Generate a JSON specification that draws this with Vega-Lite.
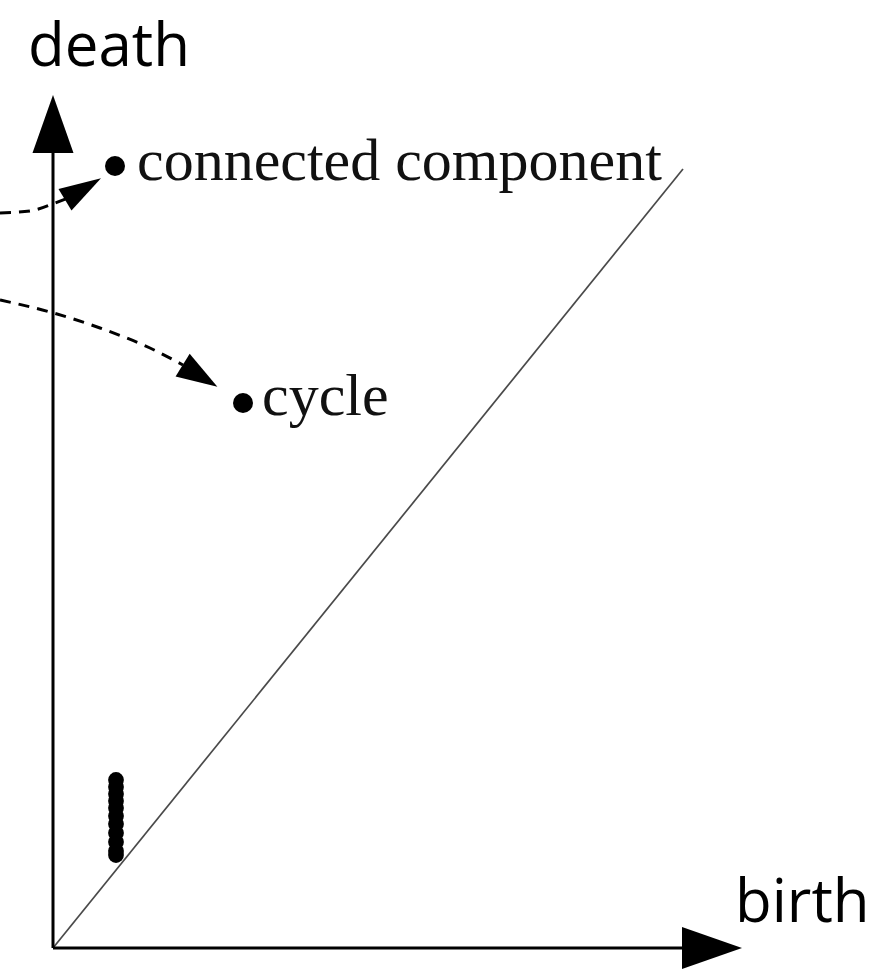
{
  "$schema": "https://vega.github.io/schema/vega-lite/v6.json",
  "width": 889,
  "height": 973,
  "padding": 0,
  "autosize": {"type": "none"},
  "background": "white",
  "config": {"view": {"stroke": null}},
  "datasets": {
    "axes": [
      {"x": 0, "y": 0, "x2": 0, "y2": 795},
      {"x": 0, "y": 0, "x2": 629, "y2": 0}
    ],
    "diag": [{"x": 0, "y": 0, "x2": 630, "y2": 779}],
    "curves": [
      {"c": "a", "i": 1, "x": -53, "y": 735},
      {"c": "a", "i": 2, "x": -23, "y": 737},
      {"c": "a", "i": 3, "x": 2, "y": 745},
      {"c": "a", "i": 4, "x": 15, "y": 750},
      {"c": "b", "i": 1, "x": -53, "y": 648},
      {"c": "b", "i": 2, "x": -3, "y": 636},
      {"c": "b", "i": 3, "x": 47, "y": 620},
      {"c": "b", "i": 4, "x": 97, "y": 600},
      {"c": "b", "i": 5, "x": 130, "y": 583}
    ],
    "dots": [
      {"x": 62, "y": 782},
      {"x": 190, "y": 545}
    ],
    "cluster": [
      {"x": 63, "y": 168}, {"x": 63, "y": 161}, {"x": 63, "y": 154},
      {"x": 63, "y": 147}, {"x": 63, "y": 140}, {"x": 63, "y": 132},
      {"x": 63, "y": 124}, {"x": 63, "y": 115}, {"x": 63, "y": 106},
      {"x": 63, "y": 97}, {"x": 63, "y": 93}
    ],
    "sanslabels": [
      {"x": -25, "y": 882, "t": "death"},
      {"x": 682, "y": 26, "t": "birth"}
    ],
    "seriflabels": [
      {"x": 84, "y": 768, "t": "connected component"},
      {"x": 209, "y": 533, "t": "cycle"}
    ]
  },
  "layer": [
    {
      "data": {"name": "diag"},
      "mark": {"type": "rule", "color": "#4a4a4a", "strokeWidth": 1.7},
      "encoding": {
        "x": {"field": "x", "type": "quantitative", "scale": {"domain": [-53, 836]}, "axis": null},
        "y": {"field": "y", "type": "quantitative", "scale": {"domain": [-25, 948]}, "axis": null},
        "x2": {"field": "x2"},
        "y2": {"field": "y2"}
      }
    },
    {
      "data": {"name": "axes"},
      "mark": {"type": "rule", "color": "black", "strokeWidth": 3},
      "encoding": {
        "x": {"field": "x", "type": "quantitative", "scale": {"domain": [-53, 836]}, "axis": null},
        "y": {"field": "y", "type": "quantitative", "scale": {"domain": [-25, 948]}, "axis": null},
        "x2": {"field": "x2"},
        "y2": {"field": "y2"}
      }
    },
    {
      "data": {"values": [{"x": 0, "y": 824}]},
      "mark": {"type": "point", "shape": "M0,-1L0.707,1L-0.707,1Z", "filled": true, "color": "black", "opacity": 1, "size": 3364},
      "encoding": {
        "x": {"field": "x", "type": "quantitative", "scale": {"domain": [-53, 836]}, "axis": null},
        "y": {"field": "y", "type": "quantitative", "scale": {"domain": [-25, 948]}, "axis": null}
      }
    },
    {
      "data": {"values": [{"x": 659, "y": 0}]},
      "mark": {"type": "point", "shape": "M1,0L-1,0.7L-1,-0.7Z", "filled": true, "color": "black", "opacity": 1, "size": 3600},
      "encoding": {
        "x": {"field": "x", "type": "quantitative", "scale": {"domain": [-53, 836]}, "axis": null},
        "y": {"field": "y", "type": "quantitative", "scale": {"domain": [-25, 948]}, "axis": null}
      }
    },
    {
      "data": {"name": "curves"},
      "mark": {"type": "line", "color": "black", "strokeWidth": 3, "strokeDash": [11, 8], "interpolate": "monotone", "clip": false},
      "encoding": {
        "x": {"field": "x", "type": "quantitative", "scale": {"domain": [-53, 836]}, "axis": null},
        "y": {"field": "y", "type": "quantitative", "scale": {"domain": [-25, 948]}, "axis": null},
        "detail": {"field": "c"},
        "order": {"field": "i"}
      }
    },
    {
      "data": {"values": [{"x": 30, "y": 759}]},
      "mark": {"type": "point", "shape": "M1,0L-1,0.6L-1,-0.6Z", "filled": true, "color": "black", "opacity": 1, "size": 1764, "angle": 329},
      "encoding": {
        "x": {"field": "x", "type": "quantitative", "scale": {"domain": [-53, 836]}, "axis": null},
        "y": {"field": "y", "type": "quantitative", "scale": {"domain": [-25, 948]}, "axis": null}
      }
    },
    {
      "data": {"values": [{"x": 147, "y": 572}]},
      "mark": {"type": "point", "shape": "M1,0L-1,0.65L-1,-0.65Z", "filled": true, "color": "black", "opacity": 1, "size": 1681, "angle": 32},
      "encoding": {
        "x": {"field": "x", "type": "quantitative", "scale": {"domain": [-53, 836]}, "axis": null},
        "y": {"field": "y", "type": "quantitative", "scale": {"domain": [-25, 948]}, "axis": null}
      }
    },
    {
      "data": {"name": "dots"},
      "mark": {"type": "circle", "color": "black", "opacity": 1, "size": 400},
      "encoding": {
        "x": {"field": "x", "type": "quantitative", "scale": {"domain": [-53, 836]}, "axis": null},
        "y": {"field": "y", "type": "quantitative", "scale": {"domain": [-25, 948]}, "axis": null}
      }
    },
    {
      "data": {"name": "cluster"},
      "mark": {"type": "circle", "color": "black", "opacity": 1, "size": 250},
      "encoding": {
        "x": {"field": "x", "type": "quantitative", "scale": {"domain": [-53, 836]}, "axis": null},
        "y": {"field": "y", "type": "quantitative", "scale": {"domain": [-25, 948]}, "axis": null}
      }
    },
    {
      "data": {"name": "sanslabels"},
      "mark": {"type": "text", "font": "Open Sans", "fontSize": 60, "align": "left", "baseline": "alphabetic", "color": "black"},
      "encoding": {
        "x": {"field": "x", "type": "quantitative", "scale": {"domain": [-53, 836]}, "axis": null},
        "y": {"field": "y", "type": "quantitative", "scale": {"domain": [-25, 948]}, "axis": null},
        "text": {"field": "t"}
      }
    },
    {
      "data": {"name": "seriflabels"},
      "mark": {"type": "text", "font": "Liberation Serif", "fontSize": 60, "align": "left", "baseline": "alphabetic", "color": "#111111"},
      "encoding": {
        "x": {"field": "x", "type": "quantitative", "scale": {"domain": [-53, 836]}, "axis": null},
        "y": {"field": "y", "type": "quantitative", "scale": {"domain": [-25, 948]}, "axis": null},
        "text": {"field": "t"}
      }
    }
  ]
}
